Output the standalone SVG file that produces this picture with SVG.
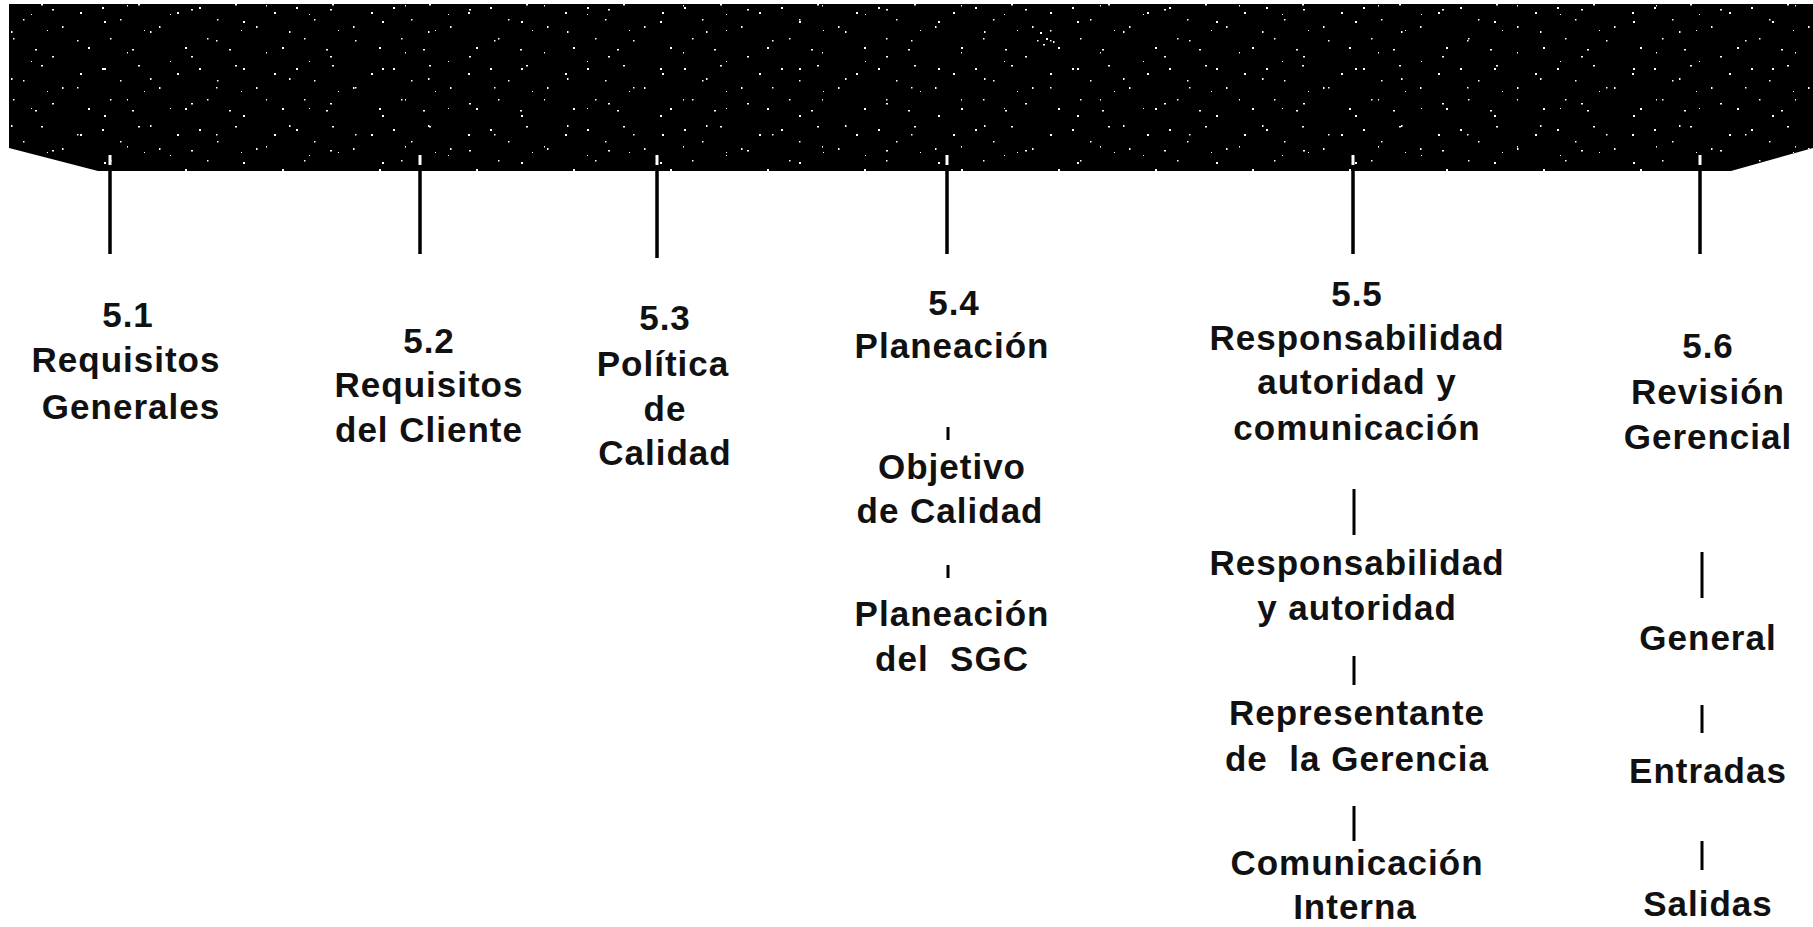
<svg xmlns="http://www.w3.org/2000/svg" width="1813" height="927" viewBox="0 0 1813 927">
<defs>
<pattern id="speckA" x="0" y="0" width="97" height="61" patternUnits="userSpaceOnUse">
<g fill="#fff">
<rect x="5" y="7" width="2" height="2"/><rect x="23" y="19" width="1.5" height="1.5"/><rect x="41" y="4" width="2" height="1.5"/>
<rect x="62" y="26" width="1.5" height="2"/><rect x="80" y="12" width="2" height="2"/><rect x="13" y="38" width="1.5" height="1.5"/>
<rect x="35" y="49" width="2" height="1.5"/><rect x="88" y="47" width="2" height="2"/>
<rect x="47" y="30" width="1" height="1"/>
</g>
</pattern>
<pattern id="speckB" x="0" y="0" width="139" height="47" patternUnits="userSpaceOnUse">
<g fill="#fff">
<rect x="11" y="31" width="1.5" height="2"/><rect x="52" y="9" width="2" height="1.5"/><rect x="77" y="40" width="1.5" height="1.5"/>
<rect x="104" y="21" width="2" height="2"/><rect x="127" y="5" width="1" height="1.5"/><rect x="31" y="14" width="1" height="1"/>
</g>
</pattern>
<style>
text{font-family:"Liberation Sans",Arial,sans-serif;font-weight:bold;font-size:35px;letter-spacing:1px;fill:#111;text-anchor:middle}
.stem{stroke:#000;stroke-width:3.5}
.bar{stroke:#000;stroke-width:3}
.tick{fill:#fff}
</style>
</defs>
<g id="banner">
<polygon points="9,4 1813,4 1813,148 1731,171 98,171 9,148" fill="#000"/>
<polygon points="9,4 1813,4 1813,148 1731,171 98,171 9,148" fill="url(#speckA)"/>
<polygon points="9,4 1813,4 1813,148 1731,171 98,171 9,148" fill="url(#speckB)"/>
<g fill="#fff">
<rect x="1040" y="32" width="2" height="2"/><rect x="1046" y="38" width="2" height="2"/><rect x="1050" y="30" width="1.5" height="1.5"/>
<rect x="1043" y="44" width="2" height="1.5"/><rect x="1053" y="41" width="1.5" height="2"/><rect x="1037" y="40" width="1.5" height="1.5"/>
</g>
<rect class="tick" x="108.5" y="155" width="3" height="10"/>
<rect class="tick" x="418.5" y="155" width="3" height="10"/>
<rect class="tick" x="655.5" y="155" width="3" height="10"/>
<rect class="tick" x="945.5" y="155" width="3" height="10"/>
<rect class="tick" x="1351.5" y="155" width="3" height="10"/>
<rect class="tick" x="1698.5" y="155" width="3" height="10"/>
</g>
<g id="connectors">
<line class="stem" x1="110" y1="171" x2="110" y2="254"/>
<line class="stem" x1="420" y1="171" x2="420" y2="254"/>
<line class="stem" x1="657" y1="171" x2="657" y2="258"/>
<line class="stem" x1="947" y1="171" x2="947" y2="254"/>
<line class="stem" x1="1353" y1="171" x2="1353" y2="254"/>
<line class="stem" x1="1700" y1="171" x2="1700" y2="254"/>
<line class="bar" x1="948" y1="427" x2="948" y2="440" stroke-width="2.5"/>
<line class="bar" x1="948" y1="565" x2="948" y2="578" stroke-width="2.5"/>
<line class="bar" x1="1354" y1="489" x2="1354" y2="535"/>
<line class="bar" x1="1354" y1="656" x2="1354" y2="685"/>
<line class="bar" x1="1354" y1="806" x2="1354" y2="841"/>
<line class="bar" x1="1702" y1="552" x2="1702" y2="598"/>
<line class="bar" x1="1702" y1="705" x2="1702" y2="733"/>
<line class="bar" x1="1702" y1="841" x2="1702" y2="870"/>
</g>
<g id="n51">
<text x="128" y="327">5.1</text>
<text x="126" y="372">Requisitos</text>
<text x="131" y="419">Generales</text>
</g>
<g id="n52">
<text x="429" y="353">5.2</text>
<text x="429" y="397">Requisitos</text>
<text x="429" y="442">del Cliente</text>
</g>
<g id="n53">
<text x="665" y="330">5.3</text>
<text x="663" y="376">Política</text>
<text x="665" y="421">de</text>
<text x="665" y="465">Calidad</text>
</g>
<g id="n54">
<text x="954" y="315">5.4</text>
<text x="952" y="358">Planeación</text>
<text x="952" y="479">Objetivo</text>
<text x="950" y="523">de Calidad</text>
<text x="952" y="626">Planeación</text>
<text x="952" y="671">del&#160; SGC</text>
</g>
<g id="n55">
<text x="1357" y="306">5.5</text>
<text x="1357" y="350">Responsabilidad</text>
<text x="1357" y="394">autoridad y</text>
<text x="1357" y="440">comunicación</text>
<text x="1357" y="575">Responsabilidad</text>
<text x="1357" y="620">y autoridad</text>
<text x="1357" y="725">Representante</text>
<text x="1357" y="771">de&#160; la Gerencia</text>
<text x="1357" y="875">Comunicación</text>
<text x="1355" y="919">Interna</text>
</g>
<g id="n56">
<text x="1708" y="358">5.6</text>
<text x="1708" y="404">Revisión</text>
<text x="1708" y="449">Gerencial</text>
<text x="1708" y="650">General</text>
<text x="1708" y="783">Entradas</text>
<text x="1708" y="916">Salidas</text>
</g>
</svg>
